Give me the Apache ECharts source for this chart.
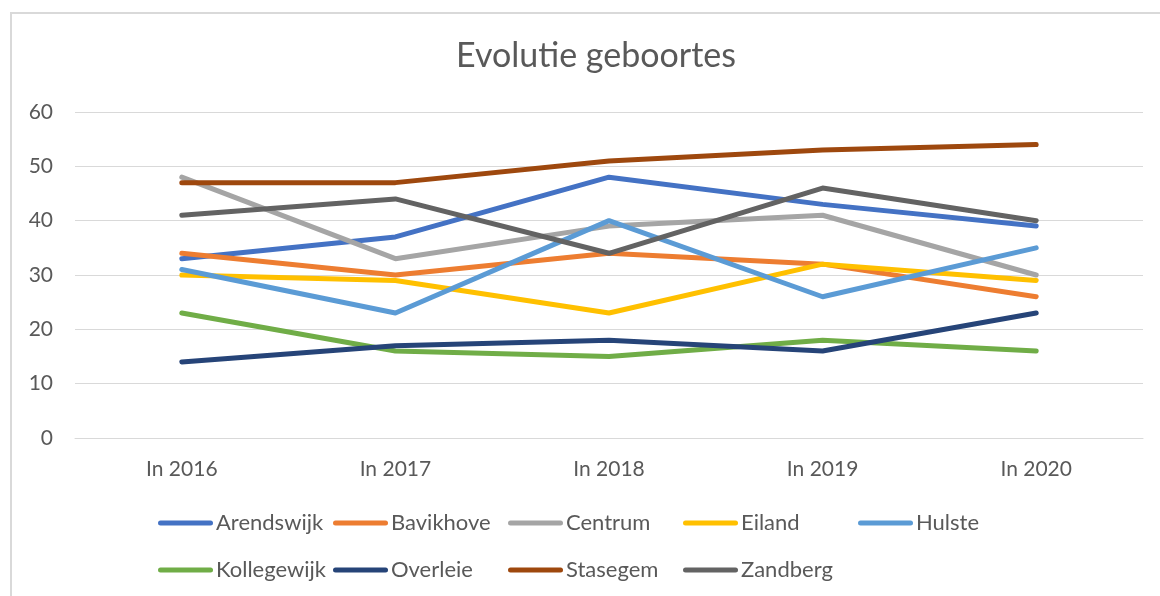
<!DOCTYPE html>
<html>
<head>
<meta charset="utf-8">
<script src="https://cdn.jsdelivr.net/npm/echarts@6/dist/echarts.min.js"></script>
<style>
  html, body { margin: 0; padding: 0; background: #fff; }
  #chart { width: 1160px; height: 596px; }
</style>
</head>
<body>
<div id="chart"></div>
<script>
const years = ['In 2016', 'In 2017', 'In 2018', 'In 2019', 'In 2020'];

const arendswijk = [33, 37, 48, 43, 39];
const bavikhove = [34, 30, 34, 32, 26];
const centrum = [48, 33, 39, 41, 30];
const eiland = [30, 29, 23, 32, 29];
const hulste = [31, 23, 40, 26, 35];
const kollegewijk = [23, 16, 15, 18, 16];
const overleie = [14, 17, 18, 16, 23];
const stasegem = [47, 47, 51, 53, 54];
const zandberg = [41, 44, 34, 46, 40];

const names = ['Arendswijk', 'Bavikhove', 'Centrum', 'Eiland', 'Hulste', 'Kollegewijk', 'Overleie', 'Stasegem', 'Zandberg'];
const values = [arendswijk, bavikhove, centrum, eiland, hulste, kollegewijk, overleie, stasegem, zandberg];
const colors = ['#4472C4', '#ED7D31', '#A5A5A5', '#FFC000', '#5B9BD5', '#70AD47', '#264478', '#9E480E', '#636363'];

const FONT = 'Lato';
const TEXT_COLOR = '#595959';

const chart = echarts.init(document.getElementById('chart'));

const series = names.map((name, i) => ({
  name: name,
  type: 'line',
  data: values[i],
  symbol: 'none',
  lineStyle: { width: 5, cap: 'round', join: 'round' },
  emphasis: { disabled: true },
}));

chart.setOption({
  animation: false,
  color: colors,
  textStyle: { fontFamily: FONT },
  title: {
    text: 'Evolutie geboortes',
    left: 591,
    textAlign: 'center',
    top: 34,
    textStyle: { fontFamily: FONT, fontSize: 34, fontWeight: 'normal', color: TEXT_COLOR },
  },
  graphic: [
    {
      type: 'rect',
      shape: { x: 11, y: 13, width: 1200, height: 700 },
      style: { fill: 'none', stroke: '#d9d9d9', lineWidth: 2 },
      silent: true,
    },
  ],
  grid: { left: 75, right: 17, top: 112, bottom: 158, containLabel: false },
  xAxis: {
    type: 'category',
    data: years,
    boundaryGap: true,
    axisLine: { show: true, lineStyle: { color: '#d9d9d9', width: 1 } },
    axisTick: { show: false },
    axisLabel: { margin: 21, fontFamily: FONT, fontSize: 21, color: TEXT_COLOR },
  },
  yAxis: {
    type: 'value',
    min: 0,
    max: 60,
    interval: 10,
    axisLine: { show: false },
    axisTick: { show: false },
    splitLine: { lineStyle: { color: '#d9d9d9', width: 1 } },
    axisLabel: { margin: 22, fontFamily: FONT, fontSize: 21, color: TEXT_COLOR },
  },
  legend: {
    data: names,
    left: 153,
    top: 497,
    width: 900,
    itemWidth: 55,
    itemHeight: 5,
    itemGap: 5,
    icon: 'path://M2.5,0 L52.5,0 A2.5,2.5 0 0 1 52.5,5 L2.5,5 A2.5,2.5 0 0 1 2.5,0 Z',
    textStyle: { fontFamily: FONT, fontSize: 22, color: TEXT_COLOR, width: 112, lineHeight: 42, padding: [0, 0, 0, -2] },
  },
  series: series,
});
</script>
</body>
</html>
